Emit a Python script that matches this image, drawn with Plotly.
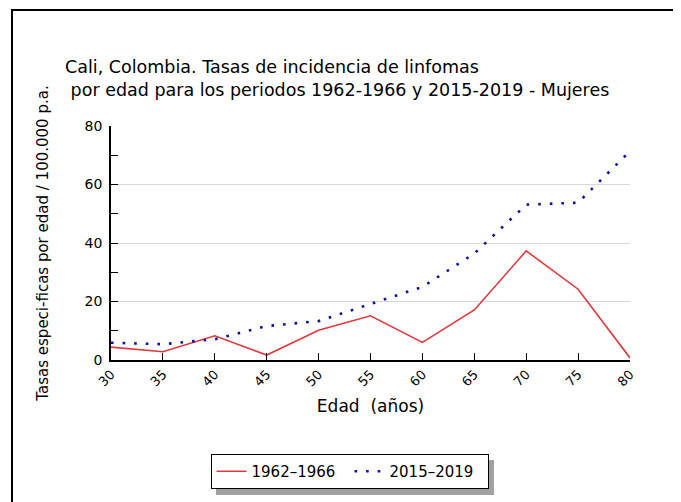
import plotly.graph_objects as go

edad = [30, 35, 40, 45, 50, 55, 60, 65, 70, 75, 80]
tasas_1962_1966 = [4.4, 2.8, 8.3, 1.7, 10.2, 15.1, 6.0, 17.1, 37.3, 24.2, 0.7]
tasas_2015_2019 = [5.9, 5.4, 7.1, 11.6, 13.3, 19.1, 25.0, 36.4, 53.1, 53.8, 71.4]
y_ticks = [0, 20, 40, 60, 80]
x_ticks = [30, 35, 40, 45, 50, 55, 60, 65, 70, 75, 80]

# page is rendered with an 8px body margin -> work in page coordinates, shift by O
O = 8
W, H = 681 - O, 502 - O
L, R, T, B = 111, 630, 126, 360   # plot area in page pixels
pw, ph = R - L, B - T

def px(x):
    return (x - L) / pw

def py(y):
    return (B - y) / ph

FONT = "DejaVu Sans"

fig = go.Figure()
fig.add_trace(go.Scatter(x=edad, y=tasas_1962_1966, mode="lines", name="1962\u20131966",
                         line=dict(color="#e0383c", width=1.6)))
fig.add_trace(go.Scatter(x=edad, y=tasas_2015_2019, mode="lines", name="2015\u20132019",
                         line=dict(color="#10109a", width=2.6, dash="2.6px,9px")))

shapes = [
    dict(type="rect", xref="paper", yref="paper", x0=px(12), x1=px(678), y0=py(520), y1=py(10),
         line=dict(color="black", width=2), layer="below"),
    dict(type="rect", xref="paper", yref="paper", x0=px(216), x1=px(494), y0=py(495), y1=py(460),
         line=dict(width=0), fillcolor="#a0a0a0", layer="above"),
]

fig.update_layout(
    width=W, height=H,
    margin=dict(l=L - O, r=W - (R - O), t=T - O, b=H - (B - O), pad=0),
    paper_bgcolor="white", plot_bgcolor="white",
    font=dict(family=FONT, size=13, color="black"),
    showlegend=True,
    legend=dict(orientation="h", x=px(349.5), xanchor="center", y=py(454), yanchor="top",
                bordercolor="black", borderwidth=1, bgcolor="white", entrywidth=93,
                font=dict(family=FONT, size=15), traceorder="normal"),
    shapes=shapes,
    annotations=[
        dict(text="Cali, Colombia. Tasas de incidencia de linfomas<br> por edad para los periodos 1962-1966 y 2015-2019 - Mujeres",
             xref="paper", yref="paper", x=px(63), y=py(55), xanchor="left", yanchor="top",
             showarrow=False, align="left", font=dict(family=FONT, size=17.5)),
    ],
    xaxis=dict(range=[30, 80], tickvals=x_ticks, ticktext=[str(v) for v in x_ticks],
               tickangle=-45, ticks="inside", ticklen=7, tickcolor="black", tickwidth=1,
               showline=True, linecolor="black", linewidth=1.5, showgrid=False, zeroline=False,
               tickfont=dict(family=FONT, size=13),
               title=dict(text="Edad  (años)", font=dict(family=FONT, size=17), standoff=12)),
    yaxis=dict(range=[0, 80], tickvals=y_ticks, ticktext=[str(v) for v in y_ticks],
               ticks="inside", ticklen=7, tickcolor="black", tickwidth=1, ticklabelstandoff=4,
               minor=dict(tickvals=[10, 30, 50, 70], ticks="inside", ticklen=7, tickcolor="black", showgrid=False),
               showline=True, linecolor="black", linewidth=1.5,
               showgrid=True, gridcolor="#d8d8d8", gridwidth=1, zeroline=False,
               tickfont=dict(family=FONT, size=14),
               title=dict(text="Tasas especi-ficas por edad / 100.000 p.a.", font=dict(family=FONT, size=15), standoff=32)),
)

fig.write_html("out.html")
